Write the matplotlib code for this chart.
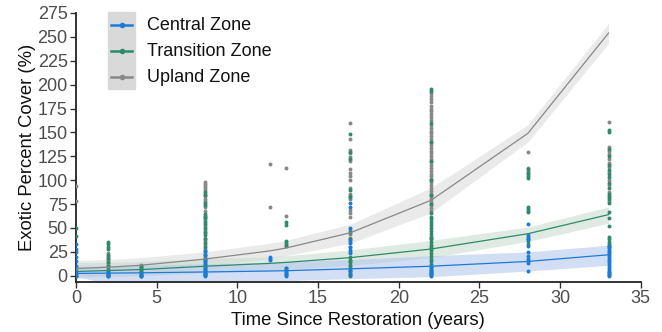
import matplotlib
matplotlib.use("Agg")
import matplotlib.pyplot as plt
from matplotlib.patches import Rectangle
from matplotlib.lines import Line2D

plt.rcParams['font.family'] = ['Liberation Sans', 'DejaVu Sans']

zones = ["Central Zone", "Transition Zone", "Upland Zone"]
colors = ["#1c7bd9", "#2e8b6a", "#888888"]
band_colors = ["#b3c8ee", "#c9dccf", "#dcdcdc"]

# fitted curves at observed times
fit_times = [0, 2, 4, 8, 12, 13, 17, 22, 28, 33]
central_fit = [2.5, 2.8, 3.1, 4, 5, 5.3, 7.3, 10, 15, 22]
central_lo = [-1, -8, -7.5, -6, -5, -5, -3, -1, 5, 11]
central_hi = [10, 10.5, 11, 12.5, 14, 14.5, 17, 21, 25, 32]
transition_fit = [4.5, 5.5, 6.5, 10, 13, 14, 19, 28, 44, 64]
transition_lo = [-2, -1, 0, 3, 6, 7, 11, 19, 36, 55]
transition_hi = [14, 14, 15, 18, 20, 21, 27, 37, 51, 72]
upland_fit = [7.6, 9, 11, 17.5, 26, 29, 45, 79, 149, 254]
upland_lo = [0, 1.5, 3, 10.5, 18, 21, 34, 66, 140, 243]
upland_hi = [16, 17, 19, 25, 34, 37, 54, 92, 158, 264]

# observed points
central_t = ([0]*9 + [2]*4 + [4]*2 + [8]*12 + [12]*3 + [13]*7 + [17]*10 + [22]*9
             + [28]*11 + [33]*19)
central_v = ([33, 28, 25, 20, 15, 10, 5, 2, 0]
             + [4, 2, 1, 0]
             + [1, 0]
             + [26, 22, 18, 15, 12, 9, 7, 5, 3, 2, 1, 0]
             + [20, 18, 17]
             + [8, 6, 4, 3, 2, 1, 0]
             + [76, 72, 50, 37, 34, 30, 27, 24, 6, 2]
             + [10, 8, 6, 5, 4, 3, 2, 1, 0]
             + [54, 43, 41, 39, 31, 25, 21, 18, 15, 13, 4.5]
             + [31, 29, 27, 25, 23, 21, 19, 17, 15, 13, 11, 9, 7, 5, 4, 3, 2, 1, 0])

transition_t = ([0]*4 + [2]*11 + [4]*6 + [8]*23 + [13]*8 + [17]*17 + [22]*30
                + [28]*11 + [33]*22)
transition_v = ([50, 42, 3, 0]
                + [35, 33, 30, 28, 22, 19, 14, 10, 6, 3, 0]
                + [10, 8, 6, 4, 2, 0]
                + [88, 85, 76, 74, 65, 63, 60, 56, 54, 50, 46, 43, 38, 34, 30, 26, 22, 18, 14, 10, 6, 3, 1]
                + [56, 53, 36, 34, 32, 31, 8, 6]
                + [148, 130, 122, 90, 84, 82, 46, 38, 20, 17, 14, 11, 8, 5, 3, 1, 0]
                + [195, 193, 160, 140, 120, 100, 85, 75, 66, 62, 59, 56, 53, 50, 47, 44, 41, 38,
                   35, 32, 29, 27, 24, 21, 18, 15, 12, 9, 6, 3]
                + [112, 108, 104, 102, 72, 70, 68, 67, 38, 36, 33]
                + [153, 150, 133, 125, 116, 111, 106, 103, 97, 92, 86, 82, 80, 76, 67, 60, 52,
                   41, 38, 35, 33, 31])

upland_t = ([0]*4 + [2]*13 + [4]*7 + [8]*27 + [12]*2 + [13]*2 + [17]*25 + [22]*43
            + [28]*4 + [33]*15)
upland_v = ([94, 78, 8, 0]
            + [24, 21, 18, 16, 13, 11, 9, 7, 5, 4, 2, 1, 0]
            + [11, 9, 7, 5, 3, 1, 0]
            + [98, 96, 94, 92, 90, 86, 83, 80, 78, 72, 68, 62, 58, 52, 48, 45, 40, 36, 32, 28,
               24, 20, 16, 12, 8, 5, 2]
            + [117, 72]
            + [113, 63]
            + [160, 143, 132, 128, 124, 120, 112, 108, 104, 100, 92, 86, 80, 69, 66, 62, 48,
               44, 40, 35, 30, 25, 15, 10, 5]
            + [191, 188, 185, 182, 178, 175, 172, 169, 166, 163, 158, 155, 152, 149, 146, 143,
               140, 137, 134, 131, 128, 125, 122, 119, 116, 113, 110, 107, 104, 101, 98, 95,
               92, 89, 86, 83, 80, 77, 74, 71, 68, 40, 30]
            + [129, 113, 110, 106]
            + [161, 135, 131, 127, 122, 118, 114, 109, 100, 95, 88, 83, 78, 30, 25])

x_ticks = [0, 5, 10, 15, 20, 25, 30, 35]
y_ticks = [0, 25, 50, 75, 100, 125, 150, 175, 200, 225, 250, 275]

fig = plt.figure(figsize=(6.62, 3.32), dpi=100)
ax = fig.add_axes([0.1148, 0.1506, 0.8532, 0.8104])

fits = [(central_fit, central_lo, central_hi),
        (transition_fit, transition_lo, transition_hi),
        (upland_fit, upland_lo, upland_hi)]
for i in [2, 1, 0]:
    f, lo, hi = fits[i]
    ax.fill_between(fit_times, lo, hi, color=band_colors[i], alpha=0.6, lw=0, zorder=1)

pts = [(central_t, central_v), (transition_t, transition_v), (upland_t, upland_v)]
for i in [2, 1, 0]:
    t, v = pts[i]
    ax.scatter(t, v, s=8, color=colors[i], lw=0, zorder=3)

for i in [2, 1, 0]:
    f, lo, hi = fits[i]
    ax.plot(fit_times, f, color=colors[i], lw=0.9, zorder=4)

ax.set_xlim(0, 35)
ax.set_ylim(-6.5, 275)
ax.set_xticks(x_ticks)
ax.set_yticks(y_ticks)
for s in ["top", "right"]:
    ax.spines[s].set_visible(False)
for s in ["left", "bottom"]:
    ax.spines[s].set_linewidth(1.3)
    ax.spines[s].set_color("#222222")
ax.tick_params(axis="both", direction="out", length=4, width=1, colors="#333333",
               labelsize=13, labelcolor="#4d4d4d", pad=2)
ax.set_xlabel("Time Since Restoration (years)", fontsize=13.3, color="#111111", labelpad=3)
ax.set_ylabel("Exotic Percent Cover (%)", fontsize=13.3, color="#111111", labelpad=1)

# legend
W, H = 662, 332
fig.patches.append(Rectangle((108 / W, 1 - 89 / H), 27 / W, 77 / H, transform=fig.transFigure,
                             color="#d9d9d9", zorder=0))
ys = [25, 51, 77]
for i in range(3):
    yy = 1 - ys[i] / H
    fig.lines.append(Line2D([111 / W, 132 / W], [yy, yy], transform=fig.transFigure,
                            color=colors[i], lw=1.8))
    fig.lines.append(Line2D([121.5 / W], [yy], transform=fig.transFigure, marker="o",
                            markersize=3, color=colors[i], lw=0))
    fig.text(147 / W, yy, zones[i], fontsize=13, va="center", ha="left", color="#111111")

fig.savefig("out.png", dpi=100)
